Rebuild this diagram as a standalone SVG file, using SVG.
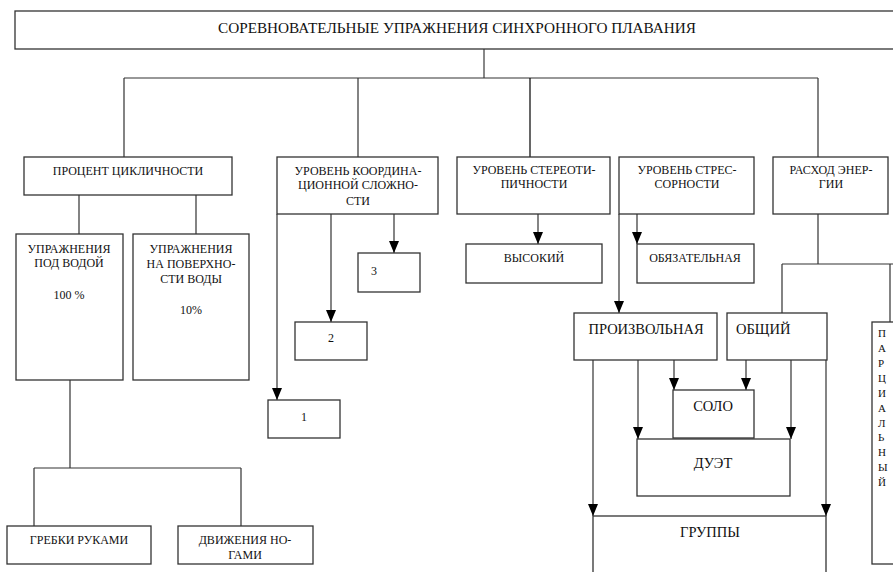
<svg xmlns="http://www.w3.org/2000/svg" width="893" height="572" viewBox="0 0 893 572">
<style>
.b{fill:#fff;stroke:#333;stroke-width:1.3}
.c{fill:none;stroke:#333;stroke-width:1.2}
text{font-family:"Liberation Serif","Times New Roman",serif;font-size:12px;fill:#111}
.t{text-anchor:middle}
.l{font-size:14.5px}
.p{font-size:11px;text-anchor:start}
</style>
<defs>
<marker id="a" markerUnits="userSpaceOnUse" markerWidth="12" markerHeight="10" viewBox="0 0 12 10" refX="12" refY="5" orient="auto">
<path d="M0,0 L12,5 L0,10 Z" fill="#000"/>
</marker>
</defs>
<rect width="893" height="572" fill="#fff"/>
<g id="connectors">
<line x1="484" y1="49" x2="484" y2="78" stroke="#888" stroke-width="2"/>
<path class="c" d="M124,78 H818 M124,78 V157 M358,78 V157 M818,78 V157"/>
<line x1="530" y1="78" x2="530" y2="157" stroke="#000" stroke-width="1.2"/>
<path class="c" d="M79,195 V234 M196,195 V234"/>
<path class="c" d="M70,380 V468 M34,468 H241 M34,468 V526 M241,468 V526"/>
<path class="c" d="M818,214 V264 M782,264 H900 M782,264 V313 M890,264 V322"/>
<g class="c">
<line x1="538" y1="214" x2="538" y2="244" marker-end="url(#a)"/>
<line x1="394" y1="214" x2="394" y2="253" marker-end="url(#a)"/>
<line x1="331" y1="214" x2="331" y2="322" marker-end="url(#a)"/>
<line x1="277" y1="214" x2="277" y2="400" marker-end="url(#a)"/>
<line x1="637" y1="214" x2="637" y2="244" marker-end="url(#a)"/>
<line x1="619" y1="214" x2="619" y2="313" marker-end="url(#a)"/>
<line x1="593" y1="360" x2="593" y2="516" marker-end="url(#a)"/>
<line x1="638" y1="360" x2="638" y2="439" marker-end="url(#a)"/>
<line x1="674" y1="360" x2="674" y2="390" marker-end="url(#a)"/>
<line x1="746" y1="360" x2="746" y2="390" marker-end="url(#a)"/>
<line x1="791" y1="360" x2="791" y2="439" marker-end="url(#a)"/>
<line x1="826" y1="360" x2="826" y2="516" marker-end="url(#a)"/>
</g>
</g>
<g id="title"><rect class="b" x="15" y="11" width="890" height="38"/><text class="t" x="457" y="33" style="font-size:15.5px" textLength="478" lengthAdjust="spacingAndGlyphs">СОРЕВНОВАТЕЛЬНЫЕ УПРАЖНЕНИЯ СИНХРОННОГО ПЛАВАНИЯ</text></g>
<g id="n-cycl"><rect class="b" x="24" y="157" width="208" height="38"/><text class="t" x="128" y="175">ПРОЦЕНТ ЦИКЛИЧНОСТИ</text></g>
<g id="n-under"><rect class="b" x="16" y="234" width="107" height="146"/><text class="t" x="69" y="253">УПРАЖНЕНИЯ</text><text class="t" x="69" y="267">ПОД ВОДОЙ</text><text class="t" x="69" y="299">100 %</text></g>
<g id="n-surf"><rect class="b" x="133" y="234" width="116" height="146"/><text class="t" x="191" y="253">УПРАЖНЕНИЯ</text><text class="t" x="191" y="268">НА ПОВЕРХНО-</text><text class="t" x="191" y="283">СТИ ВОДЫ</text><text class="t" x="191" y="314">10%</text></g>
<g id="n-arms"><rect class="b" x="7" y="526" width="144" height="38"/><text class="t" x="79" y="544">ГРЕБКИ РУКАМИ</text></g>
<g id="n-legs"><rect class="b" x="178" y="526" width="135" height="38"/><text class="t" x="245" y="544">ДВИЖЕНИЯ НО-</text><text class="t" x="245" y="559">ГАМИ</text></g>
<g id="n-coord"><rect class="b" x="277" y="157" width="161" height="57"/><text class="t" x="358" y="175">УРОВЕНЬ КООРДИНА-</text><text class="t" x="358" y="189">ЦИОННОЙ СЛОЖНО-</text><text class="t" x="358" y="205">СТИ</text></g>
<g id="n-3"><rect class="b" x="358" y="253" width="62" height="39"/><text class="t" x="374" y="275">3</text></g>
<g id="n-2"><rect class="b" x="295" y="322" width="72" height="38"/><text class="t" x="331" y="342">2</text></g>
<g id="n-1"><rect class="b" x="268" y="400" width="72" height="38"/><text class="t" x="304" y="421">1</text></g>
<g id="n-stereo"><rect class="b" x="457" y="157" width="153" height="57"/><text class="t" x="534" y="174">УРОВЕНЬ СТЕРЕОТИ-</text><text class="t" x="534" y="188">ПИЧНОСТИ</text></g>
<g id="n-high"><rect class="b" x="466" y="244" width="136" height="39"/><text class="t" x="534" y="262">ВЫСОКИЙ</text></g>
<g id="n-stress"><rect class="b" x="619" y="157" width="135" height="57"/><text class="t" x="687" y="174">УРОВЕНЬ СТРЕС-</text><text class="t" x="687" y="188">СОРНОСТИ</text></g>
<g id="n-oblig"><rect class="b" x="637" y="244" width="117" height="39"/><text class="t" x="695" y="262">ОБЯЗАТЕЛЬНАЯ</text></g>
<g id="n-energy"><rect class="b" x="773" y="157" width="115" height="57"/><text class="t" x="831" y="174">РАСХОД ЭНЕР-</text><text class="t" x="831" y="188">ГИИ</text></g>
<g id="n-free"><rect class="b" x="574" y="313" width="143" height="47"/><text class="t l" x="646" y="334">ПРОИЗВОЛЬНАЯ</text></g>
<g id="n-common"><rect class="b" x="727" y="313" width="100" height="47"/><text class="l" x="736" y="334">ОБЩИЙ</text></g>
<g id="n-solo"><rect class="b" x="673" y="390" width="81" height="48"/><text class="t l" x="713" y="411">СОЛО</text></g>
<g id="n-duet"><rect class="b" x="637" y="439" width="153" height="57"/><text class="t l" x="713" y="468">ДУЭТ</text></g>
<g id="n-groups"><rect class="b" x="593" y="516" width="233" height="70"/><text class="t l" x="710" y="537">ГРУППЫ</text></g>
<g id="n-partial"><rect class="b" x="872" y="322" width="40" height="242"/>
<text class="p" x="878" y="337">П</text><text class="p" x="878" y="352">А</text><text class="p" x="878" y="367">Р</text><text class="p" x="878" y="382">Ц</text><text class="p" x="878" y="397">И</text><text class="p" x="878" y="412">А</text><text class="p" x="878" y="427">Л</text><text class="p" x="878" y="441">Ь</text><text class="p" x="878" y="456">Н</text><text class="p" x="878" y="471">Ы</text><text class="p" x="878" y="486">Й</text></g>
</svg>
